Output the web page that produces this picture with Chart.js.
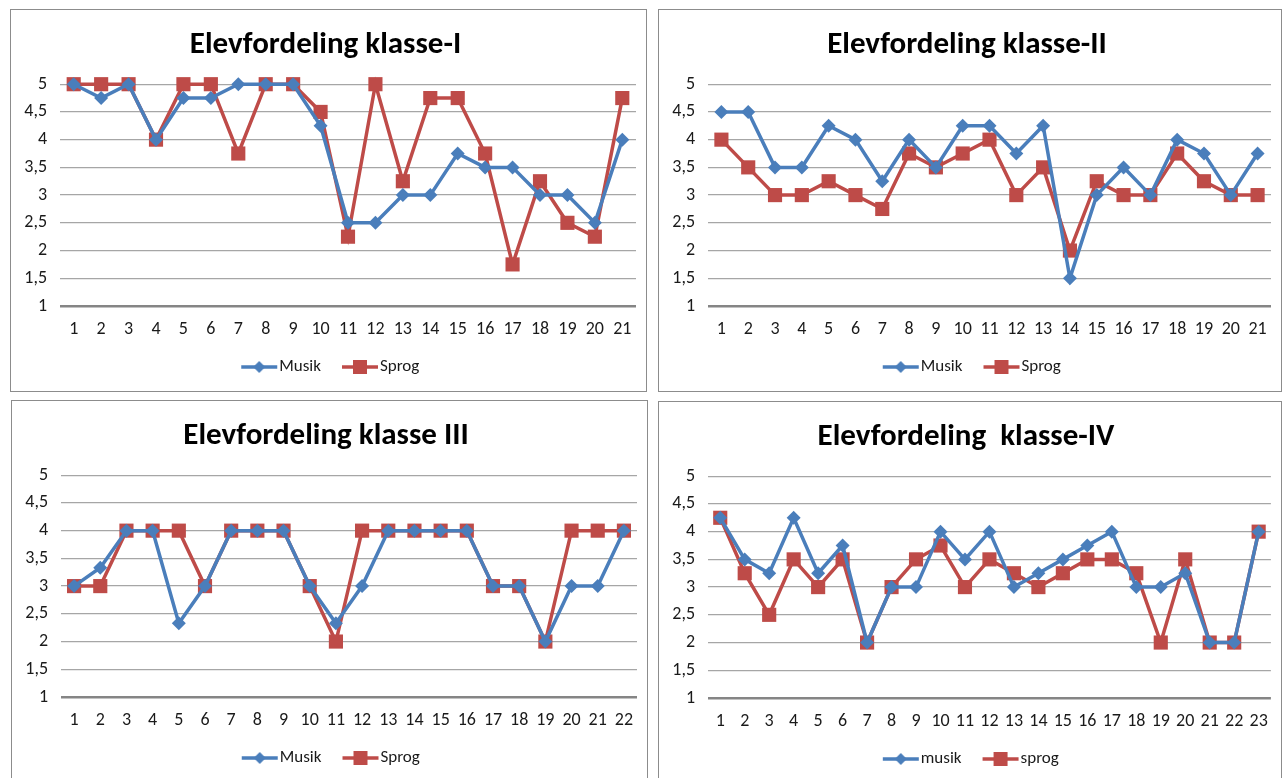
<!doctype html>
<html>
<head>
  <meta charset="utf-8">
  <script src="https://cdn.jsdelivr.net/npm/chart.js@4/dist/chart.umd.min.js"></script>
  <style>
    body { margin: 0; background: #fff; width: 1282px; height: 778px; overflow: hidden; position: relative; }
    .box { position: absolute; border: 1px solid #8c8c8c; background: #fff; overflow: hidden; }
    .box canvas { display: block; }
  </style>
</head>
<body>
  <div class="box" style="left:10px; top:9px; width:635px; height:381px;"><canvas id="c1" width="635" height="381"></canvas></div>
  <div class="box" style="left:658px; top:9px; width:622px; height:381px;"><canvas id="c2" width="622" height="381"></canvas></div>
  <div class="box" style="left:11px; top:400px; width:635px; height:381px;"><canvas id="c3" width="635" height="381"></canvas></div>
  <div class="box" style="left:658px; top:401px; width:622px; height:381px;"><canvas id="c4" width="622" height="381"></canvas></div>
  <script>
    // categories
    const cats21 = ['1','2','3','4','5','6','7','8','9','10','11','12','13','14','15','16','17','18','19','20','21'];
    const cats22 = ['1','2','3','4','5','6','7','8','9','10','11','12','13','14','15','16','17','18','19','20','21','22'];
    const cats23 = ['1','2','3','4','5','6','7','8','9','10','11','12','13','14','15','16','17','18','19','20','21','22','23'];

    // klasse-I
    const musik1 = [5, 4.75, 5, 4, 4.75, 4.75, 5, 5, 5, 4.25, 2.5, 2.5, 3, 3, 3.75, 3.5, 3.5, 3, 3, 2.5, 4];
    const sprog1 = [5, 5, 5, 4, 5, 5, 3.75, 5, 5, 4.5, 2.25, 5, 3.25, 4.75, 4.75, 3.75, 1.75, 3.25, 2.5, 2.25, 4.75];

    // klasse-II
    const musik2 = [4.5, 4.5, 3.5, 3.5, 4.25, 4, 3.25, 4, 3.5, 4.25, 4.25, 3.75, 4.25, 1.5, 3, 3.5, 3, 4, 3.75, 3, 3.75];
    const sprog2 = [4, 3.5, 3, 3, 3.25, 3, 2.75, 3.75, 3.5, 3.75, 4, 3, 3.5, 2, 3.25, 3, 3, 3.75, 3.25, 3, 3];

    // klasse III
    const musik3 = [3, 3.33, 4, 4, 2.33, 3, 4, 4, 4, 3, 2.33, 3, 4, 4, 4, 4, 3, 3, 2, 3, 3, 4];
    const sprog3 = [3, 3, 4, 4, 4, 3, 4, 4, 4, 3, 2, 4, 4, 4, 4, 4, 3, 3, 2, 4, 4, 4];

    // klasse-IV
    const musik4 = [4.25, 3.5, 3.25, 4.25, 3.25, 3.75, 2, 3, 3, 4, 3.5, 4, 3, 3.25, 3.5, 3.75, 4, 3, 3, 3.25, 2, 2, 4];
    const sprog4 = [4.25, 3.25, 2.5, 3.5, 3, 3.5, 2, 3, 3.5, 3.75, 3, 3.5, 3.25, 3, 3.25, 3.5, 3.5, 3.25, 2, 3.5, 2, 2, 4];

    const yTicks = [1, 1.5, 2, 2.5, 3, 3.5, 4, 4.5, 5];

    const BLUE = '#4a7ebb';
    const RED = '#be4b48';
    const FONT = "Carlito, Lato, 'Open Sans', sans-serif";

    // legend icon: a short line with the marker on it (blank space on the left to push it off the previous text)
    function legendIcon(color, shape) {
      const c = document.createElement('canvas');
      c.width = 56; c.height = 16;
      const g = c.getContext('2d');
      g.strokeStyle = color; g.fillStyle = color; g.lineWidth = 3.5;
      g.beginPath(); g.moveTo(18, 8); g.lineTo(54, 8); g.stroke();
      g.beginPath();
      if (shape === 'diamond') {
        g.moveTo(36, 2); g.lineTo(42, 8); g.lineTo(36, 14); g.lineTo(30, 8);
      } else {
        g.rect(29, 1, 14, 14);
      }
      g.closePath(); g.fill();
      return c;
    }
    const icons = [legendIcon(BLUE, 'diamond'), legendIcon(RED, 'square')];

    function makeChart(id, title, cats, musik, sprog, names, padRight) {
      new Chart(document.getElementById(id), {
        type: 'line',
        data: {
          labels: cats,
          datasets: [
            { label: names[0], data: musik, borderColor: BLUE, backgroundColor: BLUE, borderWidth: 3.5,
              pointStyle: 'rectRot', pointRadius: 7, pointBorderWidth: 0, tension: 0, clip: false },
            { label: names[1], data: sprog, borderColor: RED, backgroundColor: RED, borderWidth: 3.5,
              pointStyle: 'rect', pointRadius: 10, pointBorderWidth: 0, tension: 0, clip: false }
          ]
        },
        options: {
          responsive: false,
          animation: false,
          layout: { padding: { left: 0, right: padRight, top: 0, bottom: 5.5 } },
          plugins: {
            title: {
              display: true, text: title, color: '#000',
              font: { family: FONT, size: 31, weight: 'bold' },
              padding: { top: 16.5, bottom: 20.5 }
            },
            legend: {
              position: 'bottom',
              labels: {
                usePointStyle: true, pointStyleWidth: 39, padding: 11.5,
                color: '#1a1a1a', font: { family: FONT, size: 17 },
                generateLabels(chart) {
                  return Chart.defaults.plugins.legend.labels.generateLabels(chart).map((it) => {
                    it.pointStyle = icons[it.datasetIndex];
                    return it;
                  });
                }
              }
            },
            tooltip: { enabled: false }
          },
          scales: {
            x: {
              offset: true,
              grid: { display: false, drawTicks: false },
              border: { display: false },
              ticks: { color: '#1a1a1a', font: { family: FONT, size: 18 }, padding: 13, maxRotation: 0, autoSkip: false },
              afterFit(scale) { scale.height = 41; }
            },
            y: {
              min: 1, max: 5,
              afterBuildTicks(scale) { scale.ticks = yTicks.map((v) => ({ value: v })); },
              grid: {
                drawTicks: false,
                color: (ctx) => (ctx.tick && ctx.tick.value === 1 ? '#858585' : '#a6a6a6'),
                lineWidth: (ctx) => (ctx.tick && ctx.tick.value === 1 ? 2.5 : 1.3)
              },
              border: { display: false },
              ticks: {
                color: '#1a1a1a', font: { family: FONT, size: 18 }, padding: 13,
                callback: (v) => String(v).replace('.', ',')
              },
              afterFit(scale) { scale.width = 49; }
            }
          }
        }
      });
    }

    makeChart('c1', 'Elevfordeling klasse-I', cats21, musik1, sprog1, ['Musik', 'Sprog'], 6);
    makeChart('c2', 'Elevfordeling klasse-II', cats21, musik2, sprog2, ['Musik', 'Sprog'], 6);
    makeChart('c3', 'Elevfordeling klasse III', cats22, musik3, sprog3, ['Musik', 'Sprog'], 7);
    makeChart('c4', 'Elevfordeling  klasse-IV', cats23, musik4, sprog4, ['musik', 'sprog'], 8);
  </script>
</body>
</html>
